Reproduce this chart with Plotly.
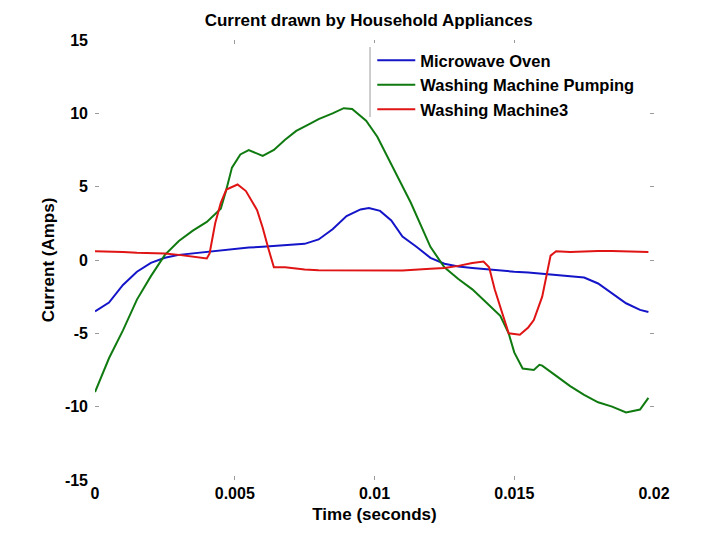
import plotly.graph_objects as go

# ---- data ----
names = ["Microwave Oven", "Washing Machine Pumping", "Washing Machine3"]

t_micro = [0, 0.0005, 0.001, 0.0015, 0.002, 0.0025, 0.003, 0.0035, 0.004, 0.0045,
           0.005, 0.0055, 0.006, 0.0065, 0.007, 0.0075, 0.008, 0.0085, 0.009, 0.0095,
           0.0098, 0.0102, 0.0106, 0.011, 0.0115, 0.012, 0.0125, 0.013, 0.0135, 0.014,
           0.0145, 0.015, 0.0155, 0.016, 0.0165, 0.017, 0.0175, 0.018, 0.0185, 0.019,
           0.0195, 0.0198]
v_micro = [-3.5, -2.9, -1.7, -0.8, -0.2, 0.15, 0.35, 0.45, 0.6, 0.7,
           0.78, 0.85, 0.9, 0.95, 1.0, 1.1, 1.4, 2.1, 3.0, 3.45,
           3.55, 3.35, 2.7, 1.6, 0.9, 0.15, -0.25, -0.45, -0.55, -0.65,
           -0.75, -0.8, -0.85, -0.95, -1.05, -1.1, -1.2, -1.6, -2.3, -2.95,
           -3.4, -3.55]

t_pump = [0, 0.0005, 0.001, 0.0015, 0.002, 0.0025, 0.003, 0.0035, 0.004, 0.0045,
          0.0047, 0.0049, 0.0052, 0.0055, 0.006, 0.0064, 0.0068, 0.0072, 0.0077, 0.008,
          0.0085, 0.0089, 0.0092, 0.0097, 0.0101, 0.0107, 0.0113, 0.012, 0.0125, 0.013,
          0.0135, 0.014, 0.0145, 0.0148, 0.015, 0.0153, 0.0157, 0.0159, 0.016, 0.0165,
          0.017, 0.0175, 0.018, 0.0185, 0.019, 0.0195, 0.0198]
v_pump = [-9.0, -6.7, -4.8, -2.7, -1.1, 0.35, 1.3, 2.0, 2.6, 3.5,
          4.8, 6.3, 7.2, 7.5, 7.1, 7.5, 8.2, 8.8, 9.3, 9.6,
          10.0, 10.35, 10.3, 9.5, 8.4, 6.2, 3.9, 0.9, -0.5, -1.3,
          -2.0, -2.9, -3.8, -5.0, -6.3, -7.4, -7.5, -7.15, -7.2, -7.9,
          -8.6, -9.2, -9.7, -10.0, -10.4, -10.2, -9.4]

t_wash3 = [0, 0.0005, 0.001, 0.0015, 0.002, 0.0025, 0.003, 0.0035, 0.004, 0.0041,
           0.0043, 0.0045, 0.0047, 0.0051, 0.0054, 0.0058, 0.006, 0.0062, 0.0064, 0.0068,
           0.0075, 0.008, 0.009, 0.01, 0.011, 0.012, 0.0125, 0.013, 0.0135, 0.0139,
           0.0141, 0.0143, 0.0145, 0.0148, 0.0152, 0.0155, 0.0157, 0.016, 0.0163, 0.0165,
           0.017, 0.0175, 0.018, 0.0185, 0.019, 0.0195, 0.0198]
v_wash3 = [0.6, 0.6, 0.55, 0.5, 0.5, 0.45, 0.35, 0.2, 0.1, 0.45,
           2.5, 3.9, 4.8, 5.15, 4.7, 3.4, 2.2, 0.8, -0.5, -0.5,
           -0.65, -0.7, -0.7, -0.72, -0.72, -0.6, -0.55, -0.4, -0.2, -0.1,
           -0.5, -2.0, -3.2, -5.0, -5.1, -4.6, -4.1, -2.5, 0.3, 0.6,
           0.55, 0.6, 0.62, 0.62, 0.6, 0.58, 0.55]

x_ticks = [0, 0.005, 0.01, 0.015, 0.02]
x_ticklabels = ["0", "0.005", "0.01", "0.015", "0.02"]
y_ticks = [-15, -10, -5, 0, 5, 10, 15]
y_ticklabels = ["-15", "-10", "-5", "0", "5", "10", "15"]

colors = ["#1414c8", "#0f7a0f", "#e01414"]

FONT = "Liberation Sans, Arial, Helvetica, sans-serif"

fig = go.Figure()
for t, v, n, c in zip([t_micro, t_pump, t_wash3], [v_micro, v_pump, v_wash3], names, colors):
    fig.add_trace(go.Scatter(x=t, y=v, mode="lines", name=n,
                             line=dict(color=c, width=2)))

axis_common = dict(
    showgrid=False, zeroline=False, showline=False, automargin=False,
    ticks="inside", ticklen=4, tickwidth=1, tickcolor="#9a9a9a",
    mirror="ticks",
    tickfont=dict(family=FONT, size=16, color="black", weight="bold"),
)
title_font = dict(family=FONT, size=17, color="black", weight="bold")

fig.update_layout(
    width=720, height=540,
    paper_bgcolor="white", plot_bgcolor="white",
    margin=dict(l=87, r=74, t=32, b=68),
    title=dict(text="Current drawn by Household Appliances",
               x=0.501, xanchor="center", y=0.978, yanchor="middle",
               font=title_font, automargin=False),
    xaxis=dict(range=[0, 0.02], tickvals=x_ticks, ticktext=x_ticklabels,
               ticklabelstandoff=2,
               title=dict(text="Time (seconds)", standoff=7, font=title_font),
               **axis_common),
    yaxis=dict(range=[-15, 15], tickvals=y_ticks, ticktext=y_ticklabels,
               ticklabelstandoff=6,
               title=dict(text="Current (Amps)", standoff=5, font=title_font),
               **axis_common),
    legend=dict(x=0.496, y=0.993, xanchor="left", yanchor="top",
                bgcolor="white", borderwidth=0,
                font=dict(family=FONT, size=16.5, color="black", weight="bold"),
                tracegroupgap=0, itemwidth=38),
    showlegend=True,
)

# left edge of the legend box
fig.add_shape(type="line", xref="paper", yref="paper",
              x0=0.492, x1=0.492, y0=0.825, y1=0.984,
              line=dict(color="#9a9a9a", width=1))

fig.write_html("out.html")
